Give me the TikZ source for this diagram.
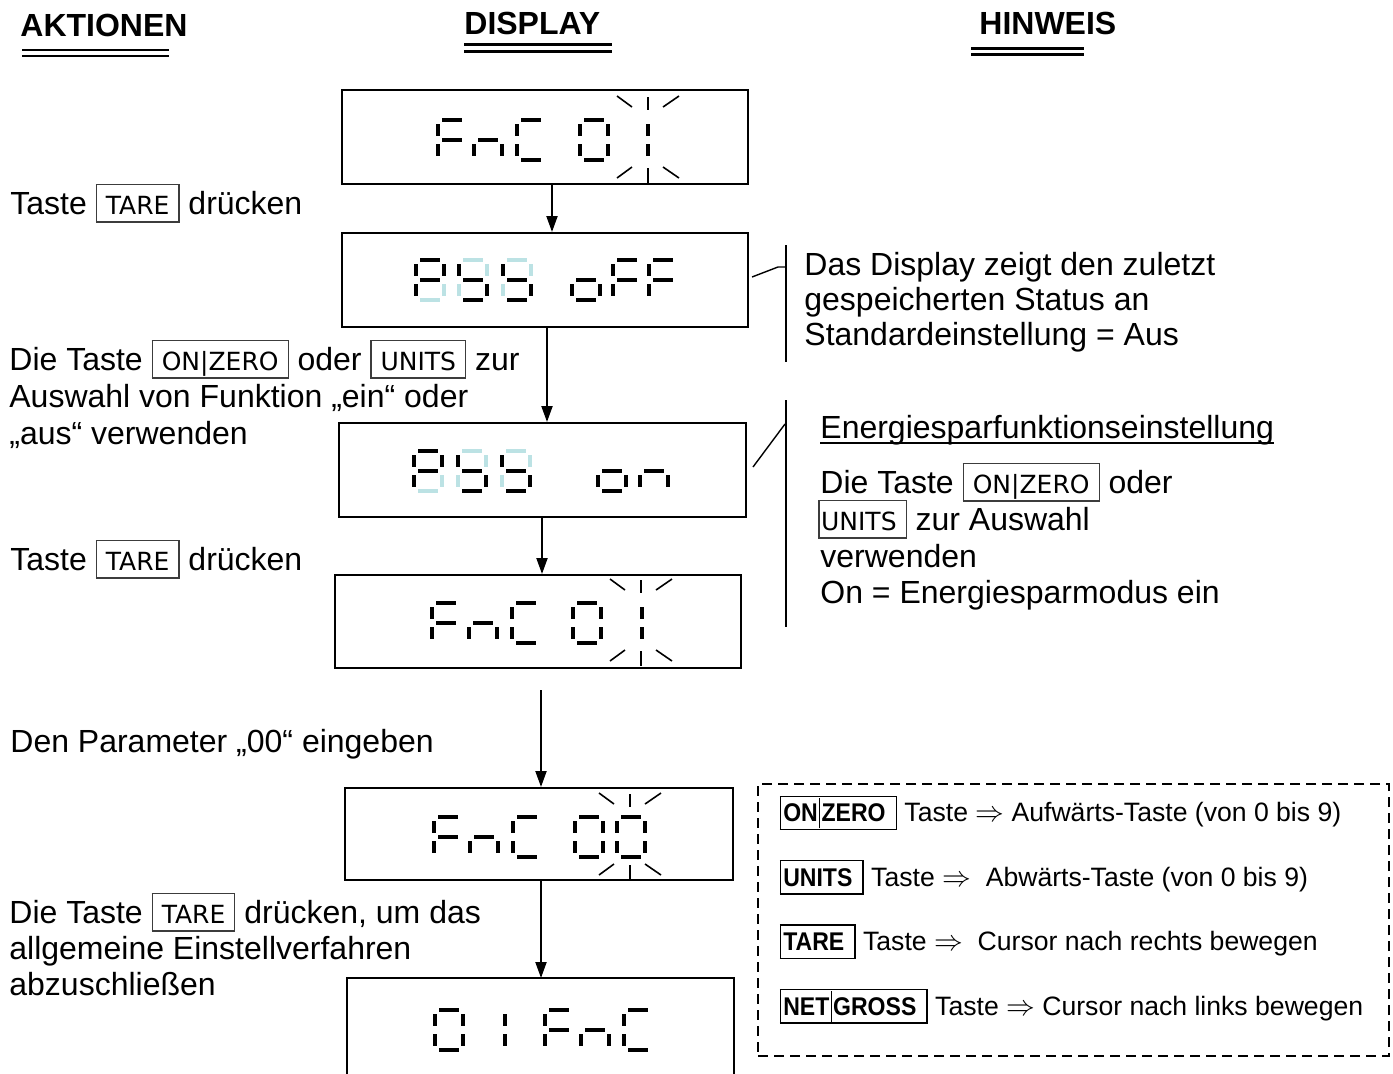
\documentclass[tikz,border=0pt]{standalone}
\usepackage{fontspec}
\setmainfont{Liberation Sans}
\newfontfamily\keyfont{DejaVu Sans}
\newfontfamily\keyBfont[FakeStretch=0.9]{Liberation Sans}
\usetikzlibrary{arrows.meta}
\definecolor{segpale}{RGB}{188,226,228}
\definecolor{keyframe}{RGB}{60,60,60}
\newcommand\key[2][4.5pt]{{\setlength\fboxsep{0pt}\setlength\fboxrule{0.55pt}\fcolorbox{keyframe}{white}{\rule[-3.7pt]{0pt}{18.3pt}\hspace{#1}{\keyfont\fontsize{12.5pt}{14pt}\selectfont #2}\hspace{4.5pt}}}}
\newcommand\keyB[1]{{\setlength\fboxsep{0pt}\setlength\fboxrule{0.7pt}\fbox{\rule[-3.6pt]{0pt}{16pt}\hspace{1pt}{\keyBfont\bfseries\fontsize{12.8pt}{14pt}\selectfont #1}\hspace{5pt}}}}
\newcommand\kbar{\kern0.6pt\rule[-3.3pt]{0.7pt}{15.4pt}\kern0.6pt}
\newcommand\Sega[3]{\draw[#3] ({#1+4},{#2}) -- ({#1+24},{#2});}
\newcommand\Segb[3]{\draw[#3] ({#1+28},{#2+4}) -- ({#1+28},{#2+16});}
\newcommand\Segc[3]{\draw[#3] ({#1+28},{#2+24}) -- ({#1+28},{#2+36});}
\newcommand\Segd[3]{\draw[#3] ({#1+4},{#2+40}) -- ({#1+24},{#2+40});}
\newcommand\Sege[3]{\draw[#3] ({#1},{#2+24}) -- ({#1},{#2+36});}
\newcommand\Segf[3]{\draw[#3] ({#1},{#2+4}) -- ({#1},{#2+16});}
\newcommand\Segg[3]{\draw[#3] ({#1+4},{#2+20}) -- ({#1+24},{#2+20});}
\newcommand\Segz[3]{}
\newcommand\digit[4]{\foreach \s in {#4}{\csname Seg\s\endcsname{#1}{#2}{lightseg}}\foreach \s in {#3}{\csname Seg\s\endcsname{#1}{#2}{segdark}}}
\newcommand\blink[3]{%
 \draw[bl] ({#1},{#2-23}) -- ({#1},{#2-10});
 \draw[bl] ({#1-31},{#2-24}) -- ({#1-16},{#2-13});
 \draw[bl] ({#1+15},{#2-13}) -- ({#1+31},{#2-24});
 \draw[bl] ({#1},{#3+8}) -- ({#1},{#3+23});
 \draw[bl] ({#1-31},{#3+18}) -- ({#1-16},{#3+7});
 \draw[bl] ({#1+15},{#3+7}) -- ({#1+31},{#3+18});}
\tikzset{
 disp/.style={draw, line width=1pt, minimum height=47pt, inner sep=0pt},
 txt/.style={anchor=base west, inner sep=0pt, font=\fontsize{16pt}{18.5pt}\selectfont},
 hd/.style={anchor=base west, inner sep=0pt, font=\bfseries\fontsize{16pt}{18pt}\selectfont},
 leg/.style={anchor=base west, inner sep=0pt, font=\fontsize{13.3pt}{15pt}\selectfont},
 arr/.style={line width=1pt, -{Triangle[length=8pt,width=5.5pt]}},
 brk/.style={line width=0.7pt},
 segdark/.style={line width=2.3pt, black},
 lightseg/.style={line width=2.3pt, segpale},
 bl/.style={line width=0.8pt},
 dline/.style={line width=1.1pt},
}
\begin{document}
\begin{tikzpicture}[x=0.5pt,y=-0.5pt]
\useasboundingbox (0,0) rectangle (1393,1073);
\fill[white] (0,0) rectangle (1393,1073);
% headers
\node[hd] (hA) at (20,36) {AKTIONEN};
\node[hd] (hD) at (464,34.5) {DISPLAY};
\node[hd] (hH) at (979,34.5) {HINWEIS};
\draw[dline] (22,50) -- (169,50); \draw[dline] (22,56) -- (169,56);
\draw[dline] (464,44.5) -- (612,44.5); \draw[dline] (464,51.5) -- (612,51.5);
\draw[dline] (971,48.5) -- (1084,48.5); \draw[dline] (971,54.5) -- (1084,54.5);
% display boxes
\node[disp, minimum width=203pt] (b1) at (545,137) {};
\node[disp, minimum width=203pt] (b2) at (545,280) {};
\node[disp, minimum width=203.5pt] (b3) at (542.5,470) {};
\node[disp, minimum width=203pt, minimum height=46.5pt] (b4) at (538,621.5) {};
\node[disp, minimum width=194pt, minimum height=46pt] (b5) at (539,834) {};
\node[disp, draw=none, minimum width=192.5pt] (b6) at (540.5,1026) {};
\draw[line width=1pt] (b6.south west) -- (b6.north west) -- (b6.north east) -- (b6.south east);
% B1
\digit{438}{120}{a,f,g,e}{z}
\digit{474}{120}{g,e,c}{z}
\digit{517}{120}{a,f,e,d}{z}
\digit{580}{120}{a,b,c,d,e,f}{z}
\digit{620}{120}{b,c}{z}
\blink{648}{120}{160}
% B2
\digit{416}{260}{a,b,f,g,e}{c,d}
\digit{459}{260}{f,g,c,d}{a,b,e}
\digit{503}{260}{f,g,c,d}{a,b,e}
\digit{572}{260}{g,e,c,d}{z}
\digit{613}{260}{a,f,g,e}{z}
\digit{649}{260}{a,f,g,e}{z}
% B3
\digit{414}{451}{a,b,f,g,e}{c,d}
\digit{458}{451}{f,g,c,d}{a,b,e}
\digit{502}{451}{f,g,c,d}{a,b,e}
\digit{598}{451}{g,e,c,d}{z}
\digit{640}{451}{g,e,c}{z}
% B4
\digit{432}{603}{a,f,g,e}{z}
\digit{469}{603}{g,e,c}{z}
\digit{512}{603}{a,f,e,d}{z}
\digit{573}{603}{a,b,c,d,e,f}{z}
\digit{614}{603}{b,c}{z}
\blink{641}{603}{643}
% B5
\digit{434}{817}{a,f,g,e}{z}
\digit{470}{817}{g,e,c}{z}
\digit{513}{817}{a,f,e,d}{z}
\digit{575}{817}{a,b,c,d,e,f}{z}
\digit{617}{817}{a,b,c,d,e,f}{z}
\blink{630}{817}{857}
% B6
\digit{435}{1010}{a,b,c,d,e,f}{z}
\digit{477}{1010}{b,c}{z}
\digit{545}{1010}{a,f,g,e}{z}
\digit{581}{1010}{g,e,c}{z}
\digit{624}{1010}{a,f,e,d}{z}
% arrows
\coordinate (x1) at (552,0);
\coordinate (x2) at (547,0);
\coordinate (x3) at (542,0);
\coordinate (a4s) at (541,690);
\coordinate (x5) at (541,0);
\draw[arr] (b1.south -| x1) -- (b2.north -| x1);
\draw[arr] (b2.south -| x2) -- (b3.north -| x2);
\draw[arr] (b3.south -| x3) -- (b4.north -| x3);
\draw[arr] (a4s) -- (b5.north -| a4s);
\draw[arr] (b5.south -| x5) -- (b6.north -| x5);
% left texts
\node[txt] (t1) at (10,214) {Taste \key{TARE} drücken};
\node[txt] (t2a) at (9,370) {Die Taste \key{ON|ZERO} oder \key{UNITS} zur};
\node[txt] (t2b) at (9,407) {Auswahl von Funktion „ein“ oder};
\node[txt] (t2c) at (9,444) {„aus“ verwenden};
\node[txt] (t3) at (10,570) {Taste \key{TARE} drücken};
\node[txt] (t4) at (10,752) {Den Parameter „00“ eingeben};
\node[txt] (t5a) at (9,923) {Die Taste \key{TARE} drücken, um das};
\node[txt] (t5b) at (9,959) {allgemeine Einstellverfahren};
\node[txt] (t5c) at (9,995) {abzuschließen};
% hinweis 1
\coordinate (br1t) at (786,245);
\coordinate (br1b) at (786,362);
\coordinate (br1k) at (778,267);
\coordinate (br1s) at (752,277);
\draw[brk] (br1t) -- (br1b);
\draw[brk] (br1s) -- (br1k) -- (br1k -| br1t);
\node[txt] (h1a) at (804,275) {Das Display zeigt den zuletzt};
\node[txt] (h1b) at (804,310) {gespeicherten Status an};
\node[txt] (h1c) at (804,345) {Standardeinstellung = Aus};
% hinweis 2
\coordinate (br2t) at (786,400);
\coordinate (br2b) at (786,627);
\coordinate (br2k) at (785,424);
\coordinate (br2s) at (753,467);
\draw[brk] (br2t) -- (br2b);
\draw[brk] (br2s) -- (br2k);
\node[txt] (h2t) at (820,438) {Energiesparfunktionseinstellung};
\draw[line width=0.8pt] ([yshift=-2.6pt]h2t.base west) -- ([yshift=-2.6pt]h2t.base east);
\node[txt] (h2a) at (820,493) {Die Taste \key{ON|ZERO} oder};
\node[txt] (h2b) at (818,530) {\key[0.8pt]{UNITS} zur Auswahl};
\node[txt] (h2c) at (820,567) {verwenden};
\node[txt] (h2d) at (820,603) {On = Energiesparmodus ein};
% legend
\node[draw, line width=1pt, dash pattern=on 5pt off 3pt, minimum width=315.5pt, minimum height=136pt, inner sep=0pt] (legend) at (1073.5,920) {};
\node[leg] (r1) at (779.5,821.7) {\keyB{ON\kbar ZERO} Taste $\Rightarrow$ Aufwärts-Taste (von 0 bis 9)};
\node[leg] (r2) at (779.5,886) {\keyB{UNITS} Taste $\Rightarrow$\ \ Abwärts-Taste (von 0 bis 9)};
\node[leg] (r3) at (779.5,950.5) {\keyB{TARE} Taste $\Rightarrow$\ \ Cursor nach rechts bewegen};
\node[leg] (r4) at (779.5,1015) {\keyB{NET\kbar GROSS} Taste $\Rightarrow$ Cursor nach links bewegen};
\end{tikzpicture}
\end{document}
